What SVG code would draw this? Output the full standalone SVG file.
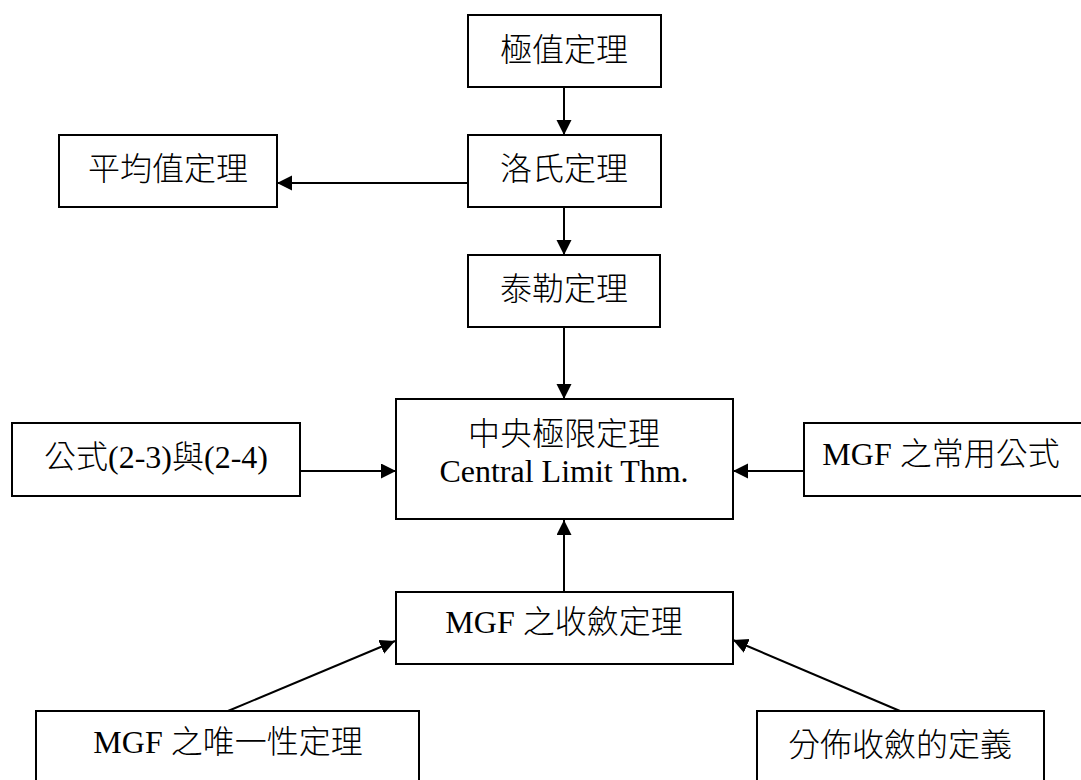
<svg xmlns="http://www.w3.org/2000/svg" width="1081" height="780" viewBox="0 0 1081 780">
<style>
.box{fill:#fff;stroke:#000;stroke-width:2}
.lbl{font-family:"Liberation Serif","Noto Sans CJK TC",serif;font-size:32px;font-weight:300;fill:#000;text-anchor:middle}
.cn{stroke:#000;stroke-width:2;fill:none;marker-end:url(#ah)}
</style>
<defs>
<marker id="ah" markerUnits="userSpaceOnUse" markerWidth="16" markerHeight="16" refX="15" refY="7.5" orient="auto">
<path d="M0,0 L15,7.5 L0,15 z" fill="#000"/>
</marker>
</defs>
<rect width="1081" height="780" fill="#fff"/>
<g id="connectors">
<line class="cn" x1="564" y1="87" x2="564" y2="135"/>
<line class="cn" x1="468" y1="183" x2="277" y2="183"/>
<line class="cn" x1="564" y1="207" x2="564" y2="255"/>
<line class="cn" x1="564" y1="327" x2="564" y2="399"/>
<line class="cn" x1="300" y1="471" x2="396" y2="471"/>
<line class="cn" x1="804" y1="471" x2="733" y2="471"/>
<line class="cn" x1="564" y1="592" x2="564" y2="520"/>
<line class="cn" x1="228" y1="711" x2="395" y2="641"/>
<line class="cn" x1="900" y1="711" x2="733" y2="640"/>
</g>
<g id="n_extreme"><rect class="box" x="468" y="15" width="193" height="72"/><text class="lbl" x="564" y="61">極值定理</text></g>
<g id="n_rolle"><rect class="box" x="468" y="135" width="193" height="72"/><text class="lbl" x="564" y="180">洛氏定理</text></g>
<g id="n_mvt"><rect class="box" x="59" y="135" width="218" height="72"/><text class="lbl" x="168" y="180">平均值定理</text></g>
<g id="n_taylor"><rect class="box" x="468" y="255" width="192" height="72"/><text class="lbl" x="564" y="300">泰勒定理</text></g>
<g id="n_clt"><rect class="box" x="396" y="399" width="337" height="120"/><text class="lbl" x="564" y="445">中央極限定理</text><text class="lbl" x="564" y="482">Central Limit Thm.</text></g>
<g id="n_formula"><rect class="box" x="12" y="423" width="288" height="73"/><text class="lbl" x="156" y="468">公式(2-3)與(2-4)</text></g>
<g id="n_mgfcommon"><rect class="box" x="804" y="423" width="290" height="73"/><text class="lbl" x="941" y="465">MGF 之常用公式</text></g>
<g id="n_mgfconv"><rect class="box" x="396" y="592" width="337" height="72"/><text class="lbl" x="564" y="633">MGF 之收斂定理</text></g>
<g id="n_mgfunique"><rect class="box" x="36" y="711" width="383" height="90"/><text class="lbl" x="228" y="753">MGF 之唯一性定理</text></g>
<g id="n_convdef"><rect class="box" x="757" y="711" width="287" height="90"/><text class="lbl" x="900" y="756">分佈收斂的定義</text></g>
</svg>
